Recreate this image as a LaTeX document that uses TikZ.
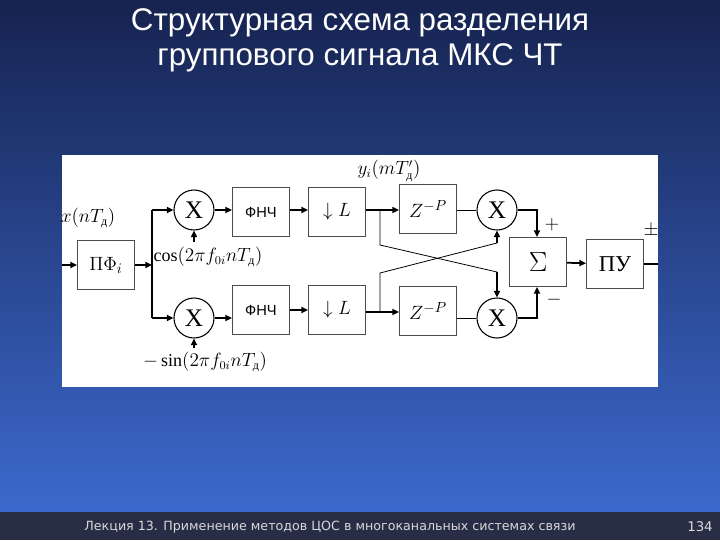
\documentclass[tikz,border=0pt]{standalone}
\usepackage{fontspec}
\setmainfont{Liberation Serif}
\newfontfamily\sansf{Liberation Sans}
\newfontfamily\dejaf{DejaVu Sans}
\usetikzlibrary{arrows.meta}
\definecolor{bgtop}{RGB}{22,35,80}
\definecolor{bgbot}{RGB}{60,105,205}
\definecolor{footc}{RGB}{40,45,70}
\newcommand\dsub{\mbox{\fontsize{9}{9}\selectfont д}}
\begin{document}
\begin{tikzpicture}[x=0.75pt,y=-0.75pt,
  blk/.style={draw=black!70,fill=white,minimum width=43pt,minimum height=37pt,inner sep=0pt,font=\fontsize{15}{15}\selectfont},
  mul/.style={circle,draw=black,thick,minimum size=30pt,inner sep=0pt,font=\fontsize{19}{19}\selectfont},
  lab/.style={font=\fontsize{13.5}{13.5}\selectfont},
  ar/.style={-{Triangle[length=5pt,width=4.5pt]},line width=1.3pt},
  ln/.style={line width=0.6pt}]
\useasboundingbox (0,0) rectangle (720,540);
\shade[top color=bgtop,bottom color=bgbot] (0,0) rectangle (720,512);
\fill[footc] (0,512) rectangle (720,540);
\node[text=white,font=\sansf\fontsize{23.5}{26.5}\selectfont,align=center] (title) at (360,40) {Структурная схема разделения\\группового сигнала МКС ЧТ};
\node[text=white!85!black,font=\dejaf\fontsize{9.5}{10}\selectfont] (foot) at (330,527) {Лекция 13. Применение методов ЦОС в многоканальных системах связи};
\node[text=white!85!black,font=\dejaf\fontsize{10}{10}\selectfont] (page) at (700,527) {134};
\fill[white] (62,155) rectangle (658,387);
% blocks
\node[blk] (pf) at (106,265) {$\Pi\Phi_i$};
\node[mul] (m1) at (194,210) {X};
\node[mul] (m2) at (194,318) {X};
\node[blk,font=\sansf\fontsize{11}{11}\selectfont] (f1) at (261,212) {ФНЧ};
\node[blk,font=\sansf\fontsize{11}{11}\selectfont] (f2) at (261,310) {ФНЧ};
\node[blk] (l1) at (337,212) {$\downarrow L$};
\node[blk] (l2) at (337,310) {$\downarrow L$};
\node[blk] (z1) at (428,209) {$Z^{-P}$};
\node[blk] (z2) at (428,311) {$Z^{-P}$};
\node[mul] (m3) at (497,210) {X};
\node[mul] (m4) at (497,318) {X};
\node[blk,font=\fontsize{20}{20}\selectfont] (sum) at (538,262) {$\Sigma$};
\node[blk,font=\fontsize{17}{17}\selectfont] (pu) at (615,264) {ПУ};
% labels
\node[lab] (lx) at (88,218) {$x(nT_{\dsub})$};
\node[lab] (lc) at (208,257) {$\cos(2\pi f_{0i}nT_{\dsub})$};
\node[lab] (ls) at (205,362) {$-\sin(2\pi f_{0i}nT_{\dsub})$};
\node[lab] (ly) at (389,171) {$y_i(mT'_{\dsub})$};
\node[lab] (lp) at (552,225) {$+$};
\node[lab] (lm) at (554,300) {$-$};
\node[lab] (lpm) at (651,231) {$\pm$};
% coordinates
\coordinate (in) at (62,265);
\coordinate (out) at (658,264);
\coordinate (b) at (152,265);
\coordinate (c1) at (194,242);
\coordinate (c2) at (194,348);
\draw[ar] (in) -- (pf);
\draw[ar] (pf) -- (b);
\draw[line width=1.3pt] (b |- m1) -- (b |- m2);
\draw[ar] (b |- m1) -- (m1);
\draw[ar] (b |- m2) -- (m2);
\draw[ar] (c1) -- (m1);
\draw[ar] (c2) -- (m2);
\draw[ar] (m1) -- (m1 -| f1.west);
\draw[ar] (m2) -- (m2 -| f2.west);
\draw[ar] (f1.east |- 0,210) -- (l1.west |- 0,210);
\draw[ar] (f2.east |- 0,310) -- (l2.west |- 0,310);
\draw[ar] (l1.east |- 0,210) -- (z1.west |- 0,210);
\draw[ar] (l2.east |- 0,312) -- (z2.west |- 0,312);
\draw[ln] (z1.east |- m3) -- (m3);
\draw[ln] (z2.east |- m4) -- (m4);
\draw[ln] (380,210) -- (380,245) -- (497,272);
\draw[ar] (497,272) -- (m4);
\draw[ln] (380,312) -- (380,273) -- (497,243);
\draw[ar] (497,243) -- (m3);
\draw[line width=1.3pt] (m3) -| (537,215);
\draw[ar] (537,215) -- (sum.north -| 537,0);
\draw[line width=1.3pt] (m4) -| (537,310);
\draw[ar] (537,310) -- (sum.south -| 537,0);
\draw[ar] (sum) -- (pu);
\draw[line width=1.3pt] (pu) -- (out);
\end{tikzpicture}
\end{document}
